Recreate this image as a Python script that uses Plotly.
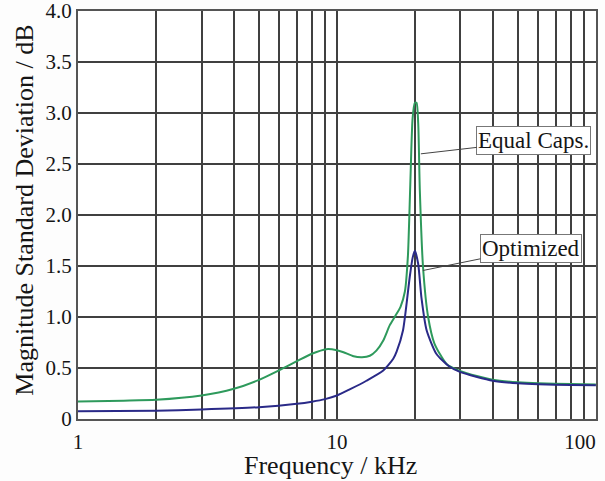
import plotly.graph_objects as go

# Frequency (kHz) and magnitude standard deviation (dB)
freq_equal = [1, 1.5, 2, 3, 4, 5, 6, 7, 8, 9.1, 10, 10.6, 11.6, 12.5, 13.4, 14.2, 15.1, 16.0, 16.8,
              17.6, 18.3, 18.8, 19.2, 19.6, 20.0, 20.3, 20.6, 20.9, 21.5, 22.5, 23.8, 26.5, 30,
              35, 40, 50, 60, 80, 100]
sd_equal = [0.172, 0.18, 0.188, 0.23, 0.296, 0.384, 0.48, 0.567, 0.64, 0.685, 0.675, 0.655, 0.615,
            0.606, 0.62, 0.67, 0.77, 0.92, 1.01, 1.10, 1.25, 1.6, 2.3, 2.95, 3.1, 3.1, 2.9, 2.24,
            1.49, 1.0, 0.74, 0.54, 0.47, 0.42, 0.385, 0.36, 0.35, 0.343, 0.338]

freq_opt = [1, 2, 3, 5, 7, 8, 9, 10, 11.2, 13, 15.1, 16.5, 17.0, 18.0, 19.1, 19.6, 20.0,
            20.6, 21.2, 22.2, 24.2, 27, 30, 40, 50, 60, 80, 100]
sd_opt = [0.077, 0.08, 0.093, 0.116, 0.149, 0.17, 0.195, 0.23, 0.29, 0.375, 0.475, 0.59,
          0.66, 0.87, 1.39, 1.58, 1.65, 1.52, 1.19, 0.87, 0.64, 0.52, 0.46, 0.375, 0.35, 0.34,
          0.333, 0.33]

x_ticks = [1, 10, 100]
x_labels = ["1", "10", "100<span style='color:rgba(0,0,0,0)'>000</span>"]
x_minor = [2, 3, 4, 5, 6, 7, 8, 9, 20, 30, 40, 50, 60, 70, 80, 90]
y_ticks = [0, 0.5, 1.0, 1.5, 2.0, 2.5, 3.0, 3.5, 4.0]
y_labels = ["0", "0.5", "1.0", "1.5", "2.0", "2.5", "3.0", "3.5", "4.0"]

GREEN = "#2e9a5c"
BLUE = "#2a2a88"
GRID = "#404040"
FONT = "Liberation Serif"
TXT = "#151515"

fig = go.Figure()
fig.add_trace(go.Scatter(x=freq_equal, y=sd_equal, mode="lines", name="Equal Caps.",
                         line=dict(color=GREEN, width=2, shape="spline", smoothing=0.6)))
fig.add_trace(go.Scatter(x=freq_opt, y=sd_opt, mode="lines", name="Optimized",
                         line=dict(color=BLUE, width=2, shape="spline", smoothing=0.6)))

fig.add_annotation(x=1.324, y=2.60, xref="x", yref="y", text="Equal Caps.",
                   showarrow=True, arrowhead=0, arrowwidth=1, arrowcolor="#444",
                   ax=113, ay=-13, bgcolor="white", bordercolor="#777", borderwidth=1,
                   borderpad=1, font=dict(family=FONT, size=23, color=TXT))
fig.add_annotation(x=1.332, y=1.456, xref="x", yref="y", text="Optimized",
                   showarrow=True, arrowhead=0, arrowwidth=1, arrowcolor="#444",
                   ax=108, ay=-22, bgcolor="white", bordercolor="#777", borderwidth=1,
                   borderpad=1, font=dict(family=FONT, size=23, color=TXT))

# axis titles
fig.add_annotation(x=0.488, y=-0.114, xref="paper", yref="paper", text="Frequency / kHz",
                   showarrow=False, xanchor="center", yanchor="middle",
                   font=dict(family=FONT, size=26, color=TXT))
fig.add_annotation(x=-0.104, y=0.511, xref="paper", yref="paper",
                   text="Magnitude Standard Deviation / dB", textangle=-90,
                   showarrow=False, xanchor="center", yanchor="middle",
                   font=dict(family=FONT, size=26, color=TXT))

fig.update_xaxes(type="log", range=[0, 2.0005], tickvals=x_ticks, ticktext=x_labels,
                 showgrid=True, gridcolor=GRID, gridwidth=1.5,
                 minor=dict(tickvals=x_minor, showgrid=True, gridcolor=GRID, gridwidth=1.5,
                            ticks=""),
                 showline=True, linecolor="#555", linewidth=2, mirror=True,
                 ticks="", zeroline=False, automargin=False, ticklabelstandoff=3,
                 ticklabeloverflow="allow",
                 tickfont=dict(family=FONT, size=21, color=TXT))
fig.update_yaxes(range=[0, 4.0005], tickvals=y_ticks, ticktext=y_labels,
                 showgrid=True, gridcolor=GRID, gridwidth=1.5,
                 showline=True, linecolor="#555", linewidth=2, mirror=True,
                 ticks="", zeroline=False, automargin=False,
                 ticklabeloverflow="allow",
                 tickfont=dict(family=FONT, size=21, color=TXT))

fig.update_layout(width=605, height=481, showlegend=False,
                  margin=dict(l=78, r=9, t=11, b=62),
                  plot_bgcolor="white", paper_bgcolor="#fdfdfd")

# remove the browser's default 8px body margin so the figure fills the window
fig.write_html("out.html", config={"displayModeBar": False},
               post_script="document.body.style.margin='0px';")
